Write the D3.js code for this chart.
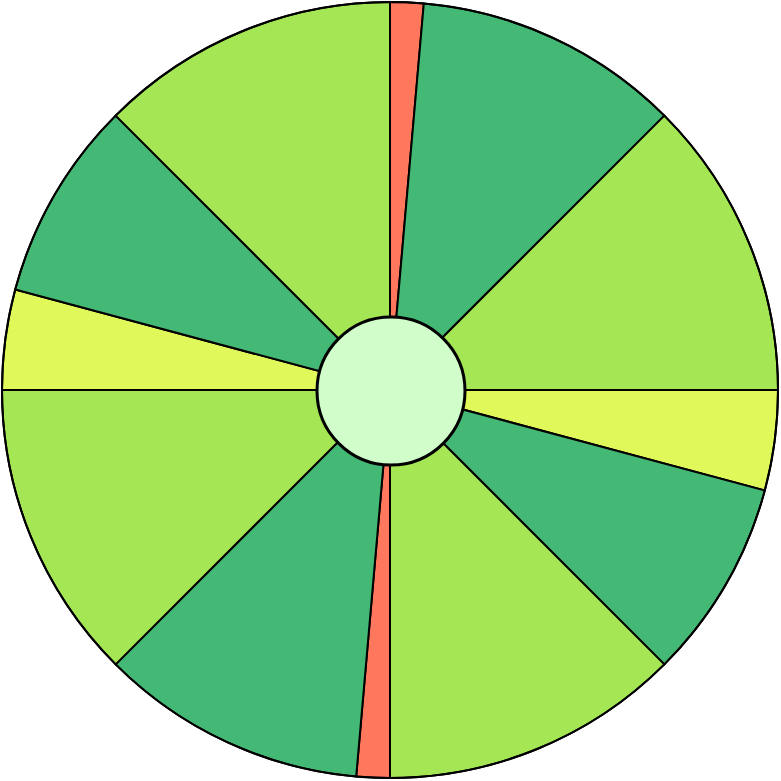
<!DOCTYPE html>
<html><head><meta charset="utf-8">
<script src="https://cdn.jsdelivr.net/npm/d3@7"></script>
<style>html,body{margin:0;padding:0;background:#fff;}svg{display:block;}</style>
</head><body>
<script>
const categories = ["A1","B1","C1","D1","E1","F1","A2","B2","C2","D2","E2","F2"];
const values = [5, 40, 45, 15, 30, 45, 5, 40, 45, 15, 30, 45];
const colorKeys = ["red","dark","light","yellow","dark","light","red","dark","light","yellow","dark","light"];
const palette = {red:"#FF775C", dark:"#44B875", light:"#A5E655", yellow:"#E1F85A"};
const centerColor = "#D0FDCA";

const W = 781, H = 781;
const cx = 390, cy = 390, R = 388, r0 = 74;
const svg = d3.select("body").append("svg").attr("width", W).attr("height", H);
const g = svg.append("g").attr("transform", `translate(${cx},${cy})`);
const data = categories.map((c,i)=>({cat:c, value:values[i], key:colorKeys[i]}));
const pie = d3.pie().sort(null).value(d=>d.value);
const arc = d3.arc().innerRadius(0).outerRadius(R);
g.selectAll("path.slice").data(pie(data)).join("path")
  .attr("class","slice")
  .attr("d", arc)
  .attr("fill", d=>palette[d.data.key])
  .attr("stroke", "#000")
  .attr("stroke-width", 2)
  .attr("stroke-linejoin","round");
g.append("circle").attr("r", R).attr("fill","none").attr("stroke","#000").attr("stroke-width",2);
g.append("circle").attr("cx",1).attr("cy",1).attr("r", r0).attr("fill", centerColor).attr("stroke","#000").attr("stroke-width",3);
</script>
</body></html>
